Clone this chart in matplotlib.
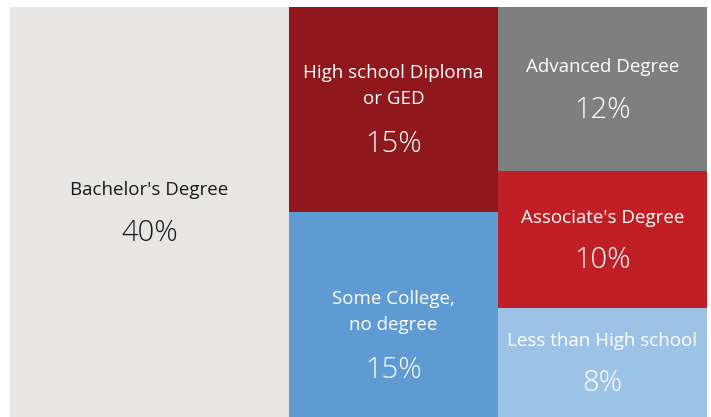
import matplotlib.pyplot as plt
from matplotlib.patches import Rectangle

# education share data
categories = ["Bachelor's Degree", "High school Diploma\nor GED", "Some College,\nno degree",
              "Advanced Degree", "Associate's Degree", "Less than High school"]
shares = [40, 15, 15, 12, 10, 8]
pct_labels = ["40%", "15%", "15%", "12%", "10%", "8%"]
columns = [[0], [1, 2], [3, 4, 5]]  # how the tiles are stacked

colors = ['#e7e6e4', '#8f181c', '#5e9bd3', '#7f7f7f', '#c01f26', '#9cc2e5']
text_colors = ['#1a1a1a', 'white', 'white', 'white', 'white', 'white']
nudge = [0, 0, -15, 0, 0, 0]  # extra vertical shift (pt) of the text block

plt.rcParams['font.family'] = ['Open Sans', 'DejaVu Sans']

fig = plt.figure(figsize=(7.11, 4.17), dpi=100)
ax = fig.add_axes([10/711, 0, 697/711, 410/417])
ax.set_xlim(0, 100)
ax.set_ylim(100, 0)
ax.axis('off')

total = float(sum(shares))
x0 = 0.0
for col in columns:
    colsum = sum(shares[i] for i in col)
    w = colsum / total * 100
    y0 = 0.0
    for i in col:
        h = shares[i] / colsum * 100
        ax.add_patch(Rectangle((x0, y0), w, h, facecolor=colors[i], edgecolor='none'))
        cx, cy = x0 + w/2, y0 + h/2
        two_line = '\n' in categories[i]
        lab_off = 17 if two_line else 15.5
        pct_off = -25 if two_line else -15
        ax.annotate(categories[i], (cx, cy), xytext=(0, lab_off + nudge[i]), textcoords='offset points',
                    ha='center', va='center', fontsize=13.5, color=text_colors[i],
                    linespacing=1.55)
        ax.annotate(pct_labels[i], (cx, cy), xytext=(0, pct_off + nudge[i]), textcoords='offset points',
                    ha='center', va='center', fontsize=21, color=text_colors[i],
                    fontweight='light')
        y0 += h
    x0 += w

fig.savefig('out.png', dpi=100)
